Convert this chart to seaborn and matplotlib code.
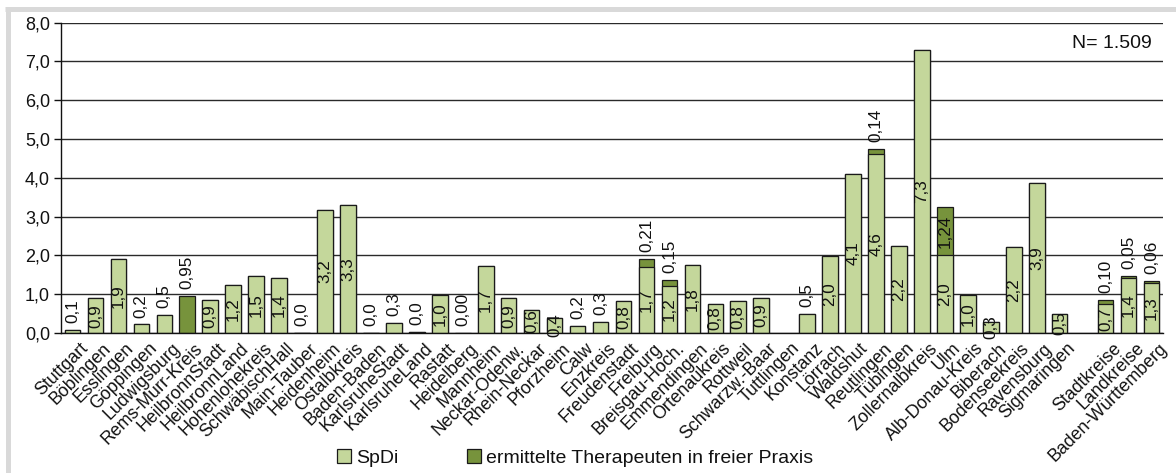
import numpy as np
import pandas as pd
import matplotlib
matplotlib.use("Agg")
import matplotlib.pyplot as plt
from matplotlib.patches import Patch
from matplotlib.lines import Line2D
from matplotlib.ticker import FuncFormatter, MultipleLocator
import matplotlib.transforms as mtransforms
import seaborn as sns

# Kreise (blank entry = gap before the summary columns)
kreise = [
    "Stuttgart", "Böblingen", "Esslingen", "Göppingen", "Ludwigsburg",
    "Rems-Murr-Kreis", "HeilbronnStadt", "HeilbronnLand", "Hohenlohekreis",
    "SchwäbischHall", "Main-Tauber", "Heidenheim", "Ostalbkreis",
    "Baden-Baden", "KarlsruheStadt", "KarlsruheLand", "Rastatt", "Heidelberg",
    "Mannheim", "Neckar-Odenw.", "Rhein-Neckar", "Pforzheim", "Calw",
    "Enzkreis", "Freudenstadt", "Freiburg", "Breisgau-Hoch.", "Emmendingen",
    "Ortenaukreis", "Rottweil", "Schwarzw.-Baar", "Tuttlingen", "Konstanz",
    "Lörrach", "Waldshut", "Reutlingen", "Tübingen", "Zollernalbkreis", "Ulm",
    "Alb-Donau-Kreis", "Biberach", "Bodenseekreis", "Ravensburg",
    "Sigmaringen", " ", "Stadtkreise", "Landkreise", "Baden-Württemberg",
]

nan = np.nan
# Sozialpsychiatrische Dienste
spdi = [
    0.09, 0.89, 1.92, 0.22, 0.47,
    nan, 0.86, 1.23, 1.46,
    1.43, 0.0, 3.18, 3.31,
    0.0, 0.27, 0.02, 0.97, nan,
    1.72, 0.89, 0.60, 0.39, 0.18,
    0.28, 0.83, 1.70, 1.21, 1.75,
    0.76, 0.83, 0.91, nan, 0.50,
    1.99, 4.11, 4.61, 2.25, 7.29, 2.00,
    0.97, 0.28, 2.22, 3.88,
    0.50, nan, 0.74, 1.42, 1.29,
]
# ermittelte Therapeuten in freier Praxis
therapeuten = [
    nan, nan, nan, nan, nan,
    0.95, nan, nan, nan,
    nan, nan, nan, nan,
    nan, nan, nan, nan, 0.00,
    nan, nan, nan, nan, nan,
    nan, nan, 0.21, 0.15, nan,
    nan, nan, nan, nan, nan,
    nan, nan, 0.14, nan, nan, 1.24,
    nan, nan, nan, nan,
    nan, nan, 0.10, 0.05, 0.06,
]
n_label = "N= 1.509"

# label placement: these SpDi labels sit on top of their bar instead of inside
spdi_label_above = {"Stuttgart", "Göppingen", "Ludwigsburg", "Main-Tauber",
                    "Baden-Baden", "KarlsruheStadt", "KarlsruheLand", "Calw",
                    "Enzkreis", "Konstanz"}
# therapist labels drawn inside their segment
ther_label_inside = {"Ulm"}

LIGHT = "#c4d79b"
DARK = "#77933c"
EDGE = "#1a1a1a"

df = pd.DataFrame({"kreis": kreise, "spdi": spdi, "ther": therapeuten})
both_missing = df["spdi"].isna() & df["ther"].isna()
df["total"] = (df["spdi"].fillna(0) + df["ther"].fillna(0)).where(~both_missing)

sns.set_theme(style="white")
plt.rcParams["font.family"] = ["Liberation Sans", "DejaVu Sans"]

W, H = 1176, 473
fig = plt.figure(figsize=(W / 100, H / 100), dpi=100)
fig.patch.set_facecolor("white")
x0, x1, y0, y1 = 61, 1163, 22.7, 333
ax = fig.add_axes([x0 / W, 1 - y1 / H, (x1 - x0) / W, (y1 - y0) / H])

bar_kw = dict(order=kreise, width=0.68, saturation=1, errorbar=None,
              edgecolor=EDGE, linewidth=0.9, ax=ax)
# stacked: full height in dark green, SpDi share drawn over it
sns.barplot(data=df, x="kreis", y="total", color=DARK, **bar_kw)
sns.barplot(data=df, x="kreis", y="spdi", color=LIGHT, **bar_kw)

ax.set_ylim(0, 8)
ax.set_xlim(-0.5, len(kreise) - 0.5)
ax.yaxis.set_major_locator(MultipleLocator(1))
ax.yaxis.set_major_formatter(FuncFormatter(lambda v, p: f"{v:.1f}".replace(".", ",")))
ax.set_axisbelow(True)
ax.yaxis.grid(True, color="#2a2a2a", linewidth=1.0)
ax.xaxis.grid(False)
for side in ("top", "right"):
    ax.spines[side].set_visible(False)
for side in ("left", "bottom"):
    ax.spines[side].set_color("#111111")
    ax.spines[side].set_linewidth(1.0)
ax.set_xlabel("")
ax.set_ylabel("")
ax.tick_params(axis="y", which="major", length=5, width=1, color="#111111",
               labelsize=13, pad=3, left=True, labelcolor="#111111")
ax.tick_params(axis="x", length=0, labelsize=12.8, pad=2, labelcolor="#111111")

ax.set_xticks(range(len(kreise)))
ax.set_xticklabels(kreise)
offset = mtransforms.ScaledTranslation(7 / 100, -4 / 100, fig.dpi_scale_trans)
for lab in ax.get_xticklabels():
    lab.set_rotation(45)
    lab.set_ha("right")
    lab.set_va("top")
    lab.set_rotation_mode("anchor")
    lab.set_transform(lab.get_transform() + offset)


def fmt(v, d):
    return f"{v:.{d}f}".replace(".", ",")


lab_kw = dict(rotation=90, fontsize=12.3, color="#111111", ha="center")
up = mtransforms.offset_copy(ax.transData, fig=fig, x=0, y=5, units="points")
for i, row in df.iterrows():
    s, t = row["spdi"], row["ther"]
    if not np.isnan(s):
        if row["kreis"] in spdi_label_above:
            ax.text(i, s, fmt(s, 1), va="bottom", transform=up, **lab_kw)
        else:
            ax.text(i, s / 2, fmt(s, 1), va="center", **lab_kw)
    if not np.isnan(t):
        base = 0 if np.isnan(s) else s
        if row["kreis"] in ther_label_inside:
            ax.text(i, base + t / 2, fmt(t, 2), va="center", **lab_kw)
        else:
            ax.text(i, base + t, fmt(t, 2), va="bottom", transform=up, **lab_kw)

ax.text(0.99, 0.96, n_label, transform=ax.transAxes, ha="right", va="top",
        fontsize=14, color="#111111")

handles = [Patch(facecolor=LIGHT, edgecolor=EDGE, linewidth=0.9, label="SpDi"),
           Patch(facecolor=DARK, edgecolor=EDGE, linewidth=0.9,
                 label="ermittelte Therapeuten in freier Praxis")]
fig.legend(handles=handles, loc="center", bbox_to_anchor=(575 / W, 1 - 458 / H),
           ncol=2, frameon=False, fontsize=14, handlelength=0.75,
           handleheight=0.75, handletextpad=0.25, columnspacing=3.5,
           labelcolor="#111111")

# light grey frame along the top and left edge
fig.add_artist(Line2D([5 / W, 1], [1 - 9.5 / H] * 2, color="#d9d9d9", lw=3.6,
                      transform=fig.transFigure, solid_capstyle="butt"))
fig.add_artist(Line2D([7.5 / W] * 2, [1 - 7 / H, 0], color="#d9d9d9", lw=3.6,
                      transform=fig.transFigure, solid_capstyle="butt"))

fig.savefig("out.png", dpi=100, facecolor="white")
